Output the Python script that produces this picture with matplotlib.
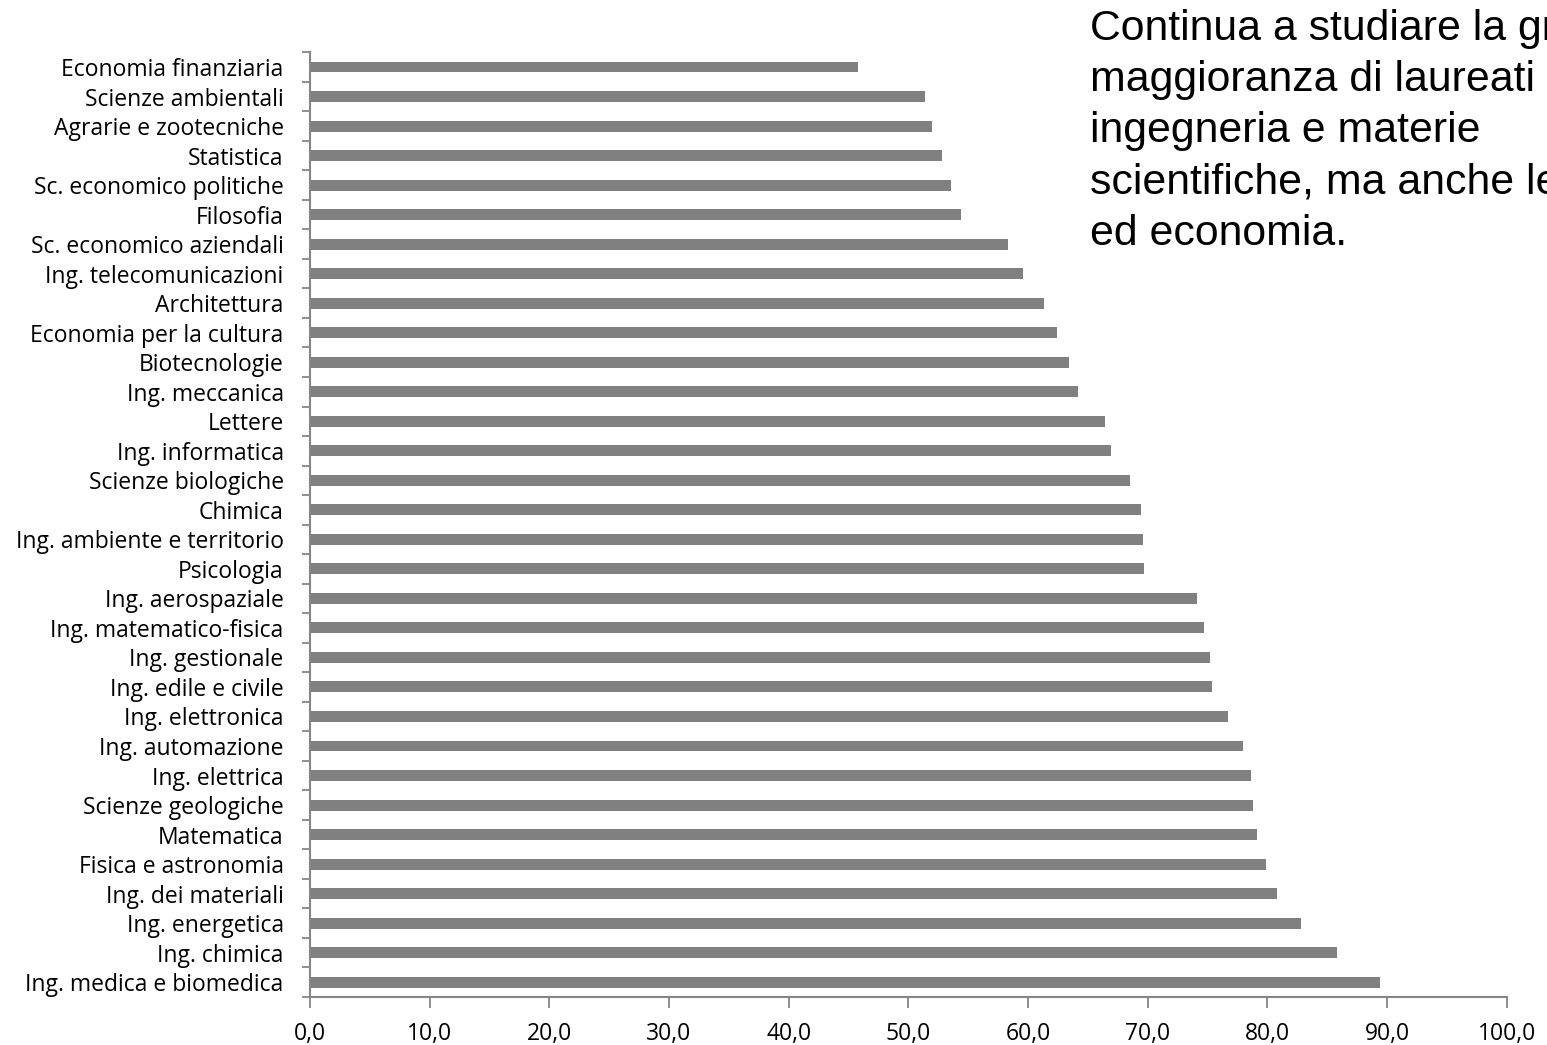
import numpy as np
import matplotlib
matplotlib.use("Agg")
from matplotlib import pyplot as plt

# corsi di laurea, top to bottom as shown
corsi = [
    "Economia finanziaria", "Scienze ambientali", "Agrarie e zootecniche",
    "Statistica", "Sc. economico politiche", "Filosofia",
    "Sc. economico aziendali", "Ing. telecomunicazioni", "Architettura",
    "Economia per la cultura", "Biotecnologie", "Ing. meccanica", "Lettere",
    "Ing. informatica", "Scienze biologiche", "Chimica",
    "Ing. ambiente e territorio", "Psicologia", "Ing. aerospaziale",
    "Ing. matematico-fisica", "Ing. gestionale", "Ing. edile e civile",
    "Ing. elettronica", "Ing. automazione", "Ing. elettrica",
    "Scienze geologiche", "Matematica", "Fisica e astronomia",
    "Ing. dei materiali", "Ing. energetica", "Ing. chimica",
    "Ing. medica e biomedica",
]
valori = [
    45.8, 51.4, 52.0, 52.8, 53.6, 54.4, 58.3, 59.6, 61.3, 62.4, 63.4, 64.2,
    66.4, 66.9, 68.5, 69.4, 69.6, 69.7, 74.1, 74.7, 75.2, 75.4, 76.7, 78.0,
    78.6, 78.8, 79.1, 79.9, 80.8, 82.8, 85.8, 89.4,
]
xticks = [0, 10, 20, 30, 40, 50, 60, 70, 80, 90, 100]
xlabels = ["0,0", "10,0", "20,0", "30,0", "40,0", "50,0", "60,0", "70,0",
           "80,0", "90,0", "100,0"]
testo = ("Continua a studiare la gr\nmaggioranza di laureati\n"
         "ingegneria e materie\nscientifiche, ma anche le\ned economia.")

fig = plt.figure(figsize=(15.47, 10.45), dpi=100)
ax = fig.add_axes([0.2004, 0.046, 0.7736, 0.904])

y = np.arange(len(corsi))
ax.barh(y, valori, height=0.37, color="#808080")
ax.set_ylim(len(corsi) - 0.5, -0.5)
ax.set_xlim(0, 100)

ax.set_yticks(y)
ax.set_yticklabels(corsi, fontsize=16.5, family="Open Sans")
ax.tick_params(axis="y", length=0, pad=19)
ax.set_yticks(np.arange(len(corsi) + 1) - 0.5, minor=True)
ax.tick_params(axis="y", which="minor", length=6, width=1.3, color="#868686")

ax.set_xticks(xticks)
ax.set_xticklabels(xlabels, fontsize=16.5, family="Open Sans")
ax.tick_params(axis="x", length=8, width=1.3, color="#868686", pad=10)

for s in ["top", "right"]:
    ax.spines[s].set_visible(False)
for s in ["left", "bottom"]:
    ax.spines[s].set_color("#868686")
    ax.spines[s].set_linewidth(1.5)

fig.text(1090 / 1547, 1 - 9 / 1045, testo, fontsize=30.8, family="Liberation Sans",
         va="top", ha="left", linespacing=1.36)

fig.savefig("out.png", dpi=100)
